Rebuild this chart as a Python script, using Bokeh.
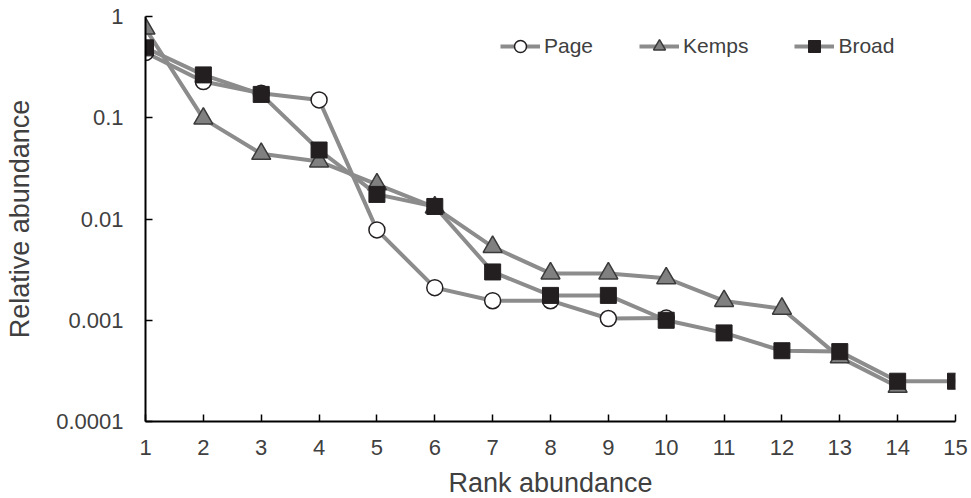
from bokeh.plotting import figure
from bokeh.models import Range1d, FixedTicker, Legend, LegendItem
from bokeh.embed import file_html
from bokeh.resources import INLINE

# ---- data ----
page_rank = [1, 2, 3, 4, 5, 6, 7, 8, 9, 10]
page_vals = [0.44, 0.228, 0.175, 0.15, 0.0078, 0.0021, 0.00156, 0.00156, 0.00104, 0.00105]

kemps_rank = [1, 2, 3, 4, 5, 6, 7, 8, 9, 10, 11, 12, 13, 14]
kemps_vals = [0.76, 0.098, 0.044, 0.037, 0.022, 0.013, 0.0053, 0.0029, 0.0029, 0.0026,
              0.00155, 0.0013, 0.00043, 0.00022]

broad_rank = [1, 2, 3, 4, 5, 6, 7, 8, 9, 10, 11, 12, 13, 14, 15]
broad_vals = [0.49, 0.265, 0.17, 0.048, 0.0175, 0.0133, 0.003, 0.00176, 0.00176, 0.001,
              0.00075, 0.0005, 0.00049, 0.00025, 0.00025]

x_ticks = list(range(1, 16))
y_ticks = [0.0001, 0.001, 0.01, 0.1, 1]
y_tick_labels = ["0.0001", "0.001", "0.01", "0.1", "1"]

FONT = "Liberation Sans"
TXT = "#404040"
LINE = "#8c8c8c"

p = figure(frame_width=810, frame_height=405, width=971, height=496,
           y_axis_type="log", x_range=Range1d(1, 15), y_range=Range1d(0.0001, 1),
           output_backend="svg", toolbar_location=None,
           min_border_left=145, min_border_right=16, min_border_top=16, min_border_bottom=75)
p.outline_line_color = None
p.xgrid.visible = False
p.ygrid.visible = False
p.background_fill_color = "white"

p.xaxis.ticker = FixedTicker(ticks=x_ticks)
p.yaxis.ticker = FixedTicker(ticks=y_ticks)
p.yaxis.major_label_overrides = {t: l for t, l in zip(y_ticks, y_tick_labels)}
for ax in (p.xaxis[0], p.yaxis[0]):
    ax.axis_line_color = "black"
    ax.axis_line_width = 2
    ax.major_tick_in = 7
    ax.major_tick_out = 0
    ax.major_tick_line_color = "black"
    ax.major_tick_line_width = 1.5
    ax.minor_tick_line_color = None
    ax.major_label_text_font = FONT
    ax.major_label_text_font_size = "22px"
    ax.major_label_text_color = TXT
    ax.axis_label_text_font = FONT
    ax.axis_label_text_font_size = "27px"
    ax.axis_label_text_font_style = "normal"
    ax.axis_label_text_color = TXT

p.xaxis.axis_label = "Rank abundance"
p.yaxis.axis_label = "Relative abundance"
p.xaxis.major_label_standoff = 18
p.yaxis.major_label_standoff = 22
p.xaxis.axis_label_standoff = 10
p.yaxis.axis_label_standoff = 18

# Page
l1 = p.line(page_rank, page_vals, line_color=LINE, line_width=4)
m1 = p.scatter(page_rank, page_vals, marker="circle", size=16, fill_color="white",
               line_color="#231f20", line_width=1.5)
# Kemps
l2 = p.line(kemps_rank, kemps_vals, line_color=LINE, line_width=4)
m2 = p.scatter(kemps_rank, kemps_vals, marker="triangle", size=19, fill_color="#808080",
               line_color="#3a3a3a", line_width=1.5)
# Broad
l3 = p.line(broad_rank, broad_vals, line_color=LINE, line_width=4)
m3 = p.scatter(broad_rank, broad_vals, marker="square", size=16, fill_color="#231f20",
               line_color="#231f20", line_width=1)

legend = Legend(items=[LegendItem(label="Page", renderers=[l1, m1]),
                       LegendItem(label="Kemps", renderers=[l2, m2]),
                       LegendItem(label="Broad", renderers=[l3, m3])],
                orientation="horizontal", location=(355, 360),
                glyph_width=40, glyph_height=30, label_height=30,
                label_standoff=4, spacing=46, padding=0, margin=0,
                border_line_color=None, background_fill_alpha=0,
                label_text_font=FONT, label_text_font_size="21px",
                label_text_color=TXT)
p.add_layout(legend, "center")

open("out.html", "w").write(file_html(p, INLINE))
